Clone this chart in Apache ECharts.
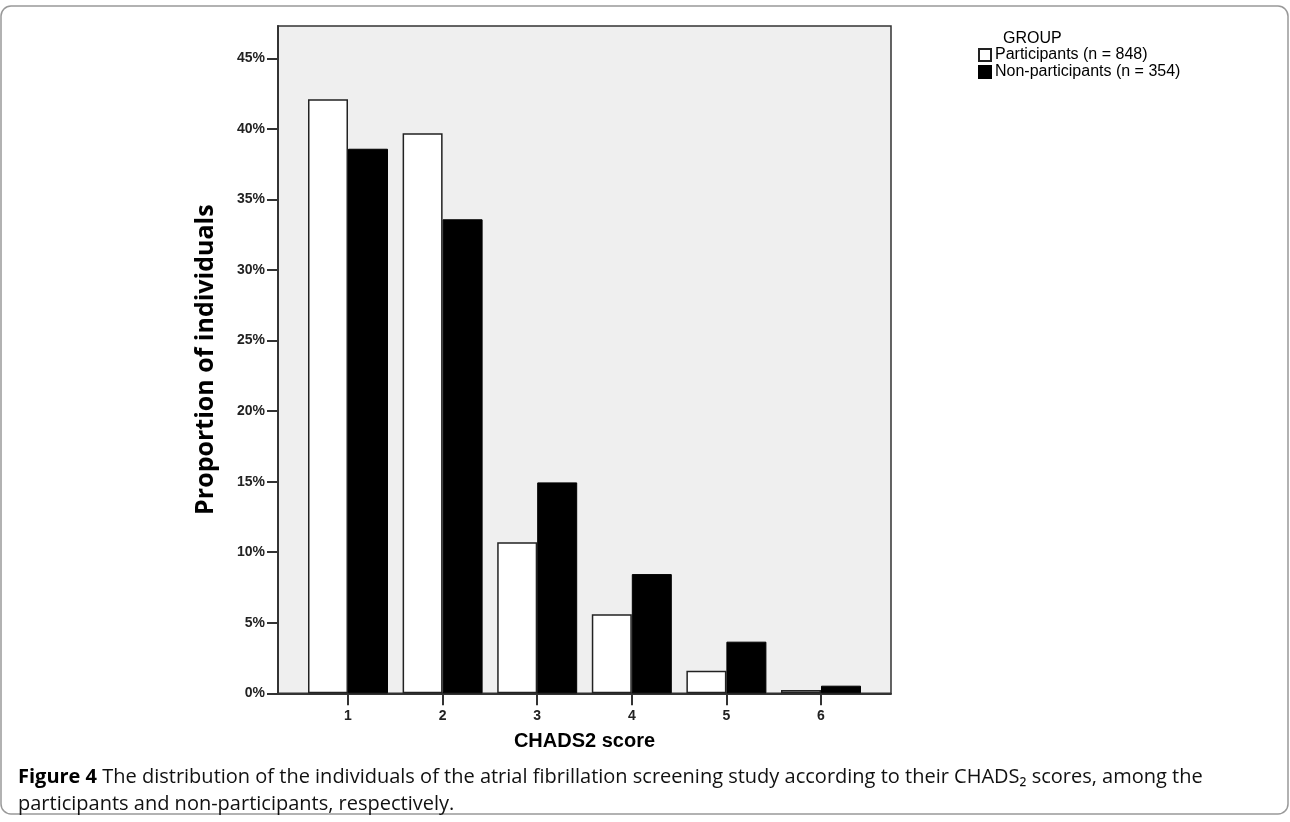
<!DOCTYPE html>
<html><head><meta charset="utf-8">
<script src="https://cdn.jsdelivr.net/npm/echarts@6/dist/echarts.min.js"></script>
<style>html,body{margin:0;padding:0;background:#fff}#c{width:1290px;height:822px}</style>
</head><body><div id="c"></div>
<script>
const categories = [1, 2, 3, 4, 5, 6];
const participants = [42.1, 39.7, 10.7, 5.6, 1.6, 0.23];
const nonParticipants = [38.6, 33.6, 14.95, 8.45, 3.66, 0.54];
const yTicks = [0, 5, 10, 15, 20, 25, 30, 35, 40, 45];
const seriesNames = ['Participants (n = 848)', 'Non-participants (n = 354)'];
const legendTitle = 'GROUP';
const xName = 'CHADS2 score';
const yName = 'Proportion of individuals';
const captionLine1 = 'The distribution of the individuals of the atrial fibrillation screening study according to their CHADS\u2082 scores, among the';
const captionLine2 = 'participants and non-participants, respectively.';

const chart = echarts.init(document.getElementById('c'));
const axisColor = '#333';
const sans = 'Liberation Sans, Arial, sans-serif';
const capFont = 'Open Sans, sans-serif';
chart.setOption({
  animation: false,
  backgroundColor: '#fff',
  grid: {
    left: 278, top: 26, width: 613, height: 667.3,
    show: true, backgroundColor: '#efefef', borderColor: axisColor, borderWidth: 1.5
  },
  xAxis: {
    type: 'value', min: 0.26, max: 6.74,
    axisLine: { show: true, onZero: false, lineStyle: { color: axisColor, width: 2 } },
    axisTick: { show: true, customValues: categories, length: 12, lineStyle: { color: axisColor, width: 2 } },
    axisLabel: { customValues: categories, fontSize: 14, fontWeight: 'bold', color: '#222', margin: 16, fontFamily: sans },
    splitLine: { show: false },
    name: xName, nameLocation: 'middle', nameGap: 38,
    nameTextStyle: { fontSize: 20, fontWeight: 'bold', color: '#000', fontFamily: sans }
  },
  yAxis: {
    type: 'value', min: 0, max: 47.3,
    axisLine: { show: true, lineStyle: { color: axisColor, width: 2 } },
    axisTick: { show: true, customValues: yTicks, length: 11, lineStyle: { color: axisColor, width: 2 } },
    axisLabel: { customValues: yTicks, formatter: '{value}%', fontSize: 14, fontWeight: 'bold', color: '#222', margin: 13, fontFamily: sans },
    splitLine: { show: false },
    name: yName, nameLocation: 'middle', nameGap: 60, nameRotate: 90,
    nameTextStyle: { fontSize: 25, fontWeight: 'bold', color: '#000', fontFamily: capFont }
  },
  legend: {
    orient: 'vertical', left: 978, top: 47, padding: 0,
    itemWidth: 12, itemHeight: 12, itemGap: 1, icon: 'rect',
    textStyle: { fontSize: 16, color: '#000', fontFamily: sans, padding: [0, 0, 0, -1] },
    data: seriesNames
  },
  series: [
    {
      name: seriesNames[0], type: 'bar', barWidth: 40, barGap: '0%',
      data: categories.map((c, i) => [c, participants[i]]),
      itemStyle: { color: '#fff', borderColor: '#222', borderWidth: 1.5 }
    },
    {
      name: seriesNames[1], type: 'bar', barWidth: 40, barGap: '0%',
      data: categories.map((c, i) => [c, nonParticipants[i]]),
      itemStyle: { color: '#000', borderColor: '#000', borderWidth: 1 }
    }
  ],
  graphic: [
    { type: 'rect', shape: { x: 1, y: 6, width: 1287, height: 808, r: 10 },
      style: { fill: 'none', stroke: '#999', lineWidth: 1.5 }, silent: true },
    { type: 'text', left: 1003, top: 31,
      style: { text: legendTitle, fontSize: 16, fill: '#000', fontFamily: sans } },
    { type: 'text', left: 18, top: 767,
      style: {
        text: '{b|Figure 4} ' + captionLine1,
        rich: { b: { fontWeight: 'bold', fontSize: 20, fill: '#000', fontFamily: capFont } },
        fontSize: 20, fill: '#111', fontFamily: capFont
      } },
    { type: 'text', left: 18, top: 794,
      style: { text: captionLine2, fontSize: 20, fill: '#111', fontFamily: capFont } }
  ]
});
</script></body></html>
